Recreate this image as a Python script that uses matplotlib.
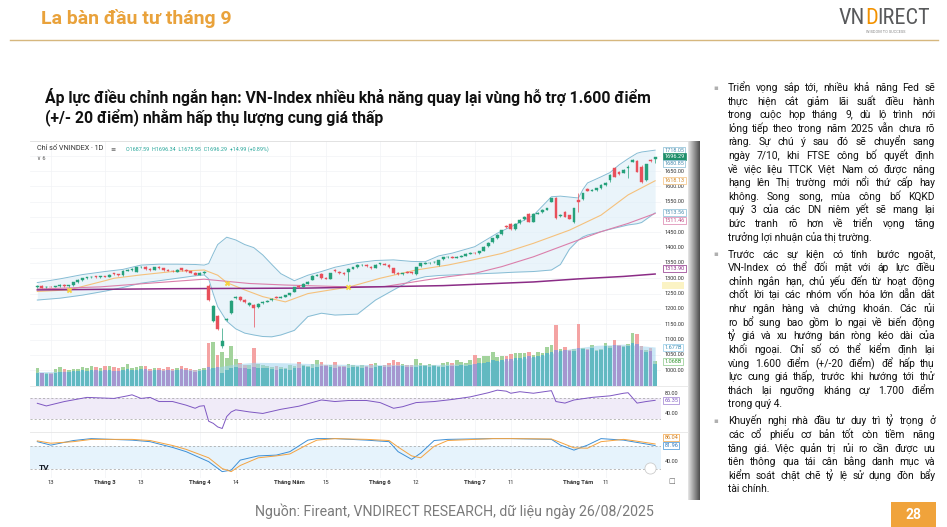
"""VN-Index slide: daily candles with Bollinger bands, volume, RSI and stochastic."""

import numpy as np
import matplotlib
matplotlib.use("Agg")
import matplotlib.pyplot as plt
from matplotlib import font_manager
from matplotlib.font_manager import FontProperties
from matplotlib.patches import Rectangle

# ---- daily candles 10/02 -> 26/08/2025 ----
opens = [1270, 1275, 1270, 1273, 1272, 1274, 1279, 1275, 1277, 1287,
         1294, 1300, 1304, 1306, 1303, 1307, 1305, 1316, 1313, 1310,
         1325, 1327, 1322, 1336, 1338, 1330, 1328, 1338, 1333, 1327,
         1325, 1322, 1332, 1327, 1323, 1318, 1312, 1317, 1276, 1162,
         1176, 1078, 1165, 1186, 1236, 1240, 1229, 1214, 1214, 1206,
         1218, 1224, 1228, 1240, 1237, 1240, 1245, 1256, 1275, 1272,
         1282, 1295, 1309, 1315, 1302, 1298, 1327, 1321, 1317, 1322,
         1331, 1337, 1343, 1344, 1338, 1334, 1345, 1347, 1343, 1333,
         1318, 1314, 1322, 1320, 1313, 1340, 1348, 1350, 1352, 1343,
         1362, 1368, 1371, 1367, 1370, 1374, 1380, 1383, 1382, 1390,
         1404, 1417, 1431, 1443, 1471, 1477, 1460, 1480, 1492, 1510,
         1485, 1511, 1515, 1524, 1550, 1561, 1503, 1517, 1506, 1485,
         1555, 1558, 1590, 1586, 1589, 1595, 1605, 1620, 1659, 1648,
         1645, 1660, 1680, 1684, 1664, 1621, 1686, 1687.59]
highs = [1278, 1277, 1275, 1275, 1276, 1280, 1281, 1279, 1289, 1296,
         1302, 1305, 1307, 1308, 1309, 1309, 1313, 1318, 1315, 1327,
         1329, 1332, 1338, 1341, 1340, 1332, 1338, 1340, 1335, 1329,
         1328, 1330, 1334, 1329, 1325, 1320, 1319, 1323, 1280, 1212,
         1180, 1138, 1172, 1228, 1243, 1241, 1231, 1222, 1216, 1218,
         1226, 1229, 1236, 1242, 1242, 1247, 1253, 1271, 1277, 1283,
         1291, 1311, 1314, 1318, 1304, 1318, 1330, 1323, 1319, 1332,
         1338, 1345, 1346, 1346, 1340, 1346, 1351, 1349, 1345, 1335,
         1320, 1318, 1324, 1322, 1338, 1351, 1352, 1353, 1356, 1361,
         1370, 1372, 1373, 1372, 1375, 1381, 1386, 1385, 1390, 1405,
         1418, 1432, 1443, 1459, 1473, 1479, 1480, 1492, 1503, 1512,
         1512, 1516, 1525, 1530, 1563, 1565, 1509, 1520, 1508, 1530,
         1577, 1579, 1593, 1591, 1596, 1606, 1614, 1640, 1662, 1650,
         1656, 1670, 1690, 1687, 1668, 1674, 1690, 1696.34]
lows = [1268, 1267, 1268, 1270, 1270, 1272, 1273, 1273, 1276, 1285,
        1292, 1298, 1302, 1301, 1301, 1303, 1303, 1311, 1308, 1309,
        1323, 1325, 1320, 1334, 1328, 1325, 1326, 1331, 1325, 1323,
        1322, 1320, 1325, 1321, 1316, 1310, 1310, 1315, 1226, 1158,
        1130, 1073, 1160, 1184, 1233, 1226, 1218, 1210, 1142, 1204,
        1216, 1222, 1226, 1235, 1235, 1238, 1243, 1254, 1269, 1270,
        1280, 1293, 1306, 1298, 1296, 1296, 1322, 1315, 1312, 1290,
        1329, 1335, 1340, 1337, 1330, 1332, 1343, 1342, 1334, 1315,
        1312, 1312, 1316, 1314, 1311, 1338, 1347, 1348, 1350, 1341,
        1360, 1366, 1365, 1365, 1368, 1372, 1378, 1378, 1380, 1389,
        1402, 1415, 1429, 1441, 1464, 1458, 1458, 1478, 1490, 1483,
        1483, 1509, 1513, 1522, 1548, 1492, 1500, 1499, 1493, 1480,
        1517, 1556, 1584, 1584, 1586, 1592, 1600, 1615, 1629, 1638,
        1643, 1628, 1678, 1646, 1612, 1619, 1678, 1675.95]
closes = [1276, 1269, 1273, 1272, 1274, 1278, 1275, 1277, 1287, 1294,
          1300, 1303, 1305, 1303, 1307, 1305, 1311, 1313, 1310, 1325,
          1327, 1330, 1336, 1338, 1330, 1327, 1336, 1333, 1327, 1325,
          1324, 1328, 1327, 1323, 1318, 1312, 1317, 1321, 1230, 1210,
          1133, 1096, 1168, 1226, 1240, 1229, 1221, 1219, 1204, 1216,
          1224, 1227, 1234, 1237, 1240, 1245, 1251, 1270, 1271, 1281,
          1289, 1309, 1311, 1300, 1299, 1316, 1324, 1317, 1315, 1330,
          1336, 1343, 1344, 1339, 1332, 1344, 1349, 1344, 1336, 1317,
          1314, 1316, 1318, 1316, 1336, 1349, 1350, 1351, 1354, 1359,
          1368, 1370, 1367, 1370, 1373, 1379, 1384, 1381, 1388, 1403,
          1416, 1430, 1441, 1457, 1466, 1460, 1478, 1490, 1501, 1485,
          1510, 1514, 1523, 1528, 1561, 1496, 1506, 1501, 1495, 1528,
          1548, 1577, 1586, 1588, 1593, 1604, 1612, 1637, 1631, 1640,
          1653, 1662, 1686, 1648, 1615, 1672, 1681.30, 1696.29]

# volume (billion shares) and the second volume study drawn inside it
volumes = [0.76, 0.57, 0.55, 0.54, 0.72, 0.80, 0.74, 0.70, 0.72, 0.75,
           0.83, 0.78, 0.86, 0.80, 0.78, 0.86, 0.87, 0.80, 0.76, 0.80,
           0.93, 0.78, 0.80, 0.84, 0.86, 0.74, 0.76, 0.78, 0.74, 0.80,
           0.72, 0.76, 0.84, 0.78, 0.74, 0.68, 0.74, 0.78, 1.84, 1.90,
           1.35, 1.47, 1.20, 1.72, 1.15, 0.98, 0.92, 0.90, 1.62, 0.95,
           0.90, 0.85, 0.82, 0.88, 0.80, 0.78, 0.92, 0.85, 1.05, 0.90,
           0.88, 0.95, 1.10, 1.02, 0.92, 0.90, 1.05, 0.88, 0.86, 0.95,
           0.92, 0.85, 0.90, 0.86, 0.95, 1.00, 0.88, 0.92, 0.98, 1.10,
           1.05, 0.95, 0.90, 0.92, 1.18, 1.00, 0.92, 0.95, 0.90, 0.88,
           1.00, 1.05, 0.98, 1.13, 1.05, 1.00, 1.10, 1.33, 1.20, 1.28,
           1.30, 1.47, 1.25, 1.30, 1.30, 1.38, 1.42, 1.40, 1.44, 1.47,
           1.35, 1.45, 1.40, 1.69, 1.76, 2.62, 1.60, 1.67, 1.55, 1.60,
           2.66, 1.62, 1.58, 1.76, 1.55, 1.60, 1.86, 1.70, 1.98, 1.75,
           1.70, 1.80, 2.27, 2.24, 1.70, 1.55, 1.62, 1.07]
vol_inner = [0.58, 0.55, 0.52, 0.50, 0.56, 0.60, 0.62, 0.60, 0.64, 0.66,
             0.68, 0.66, 0.70, 0.68, 0.66, 0.70, 0.68, 0.66, 0.64, 0.70,
             0.72, 0.68, 0.70, 0.72, 0.74, 0.66, 0.68, 0.70, 0.66, 0.70,
             0.66, 0.68, 0.72, 0.70, 0.66, 0.62, 0.66, 0.70, 0.80, 0.78,
             0.82, 0.55, 0.70, 0.76, 0.80, 0.78, 0.76, 0.74, 0.80, 0.78,
             0.76, 0.76, 0.72, 0.70, 0.74, 0.72, 0.70, 0.78, 0.76, 0.84,
             0.80, 0.78, 0.82, 0.86, 0.84, 0.80, 0.78, 0.82, 0.80, 0.78,
             0.80, 0.82, 0.78, 0.80, 0.78, 0.82, 0.84, 0.80, 0.82, 0.84,
             0.86, 0.84, 0.82, 0.80, 0.82, 0.86, 0.84, 0.82, 0.84, 0.82,
             0.80, 0.84, 0.86, 0.84, 0.90, 0.88, 0.90, 0.95, 0.98, 1.00,
             1.05, 1.10, 1.08, 1.12, 1.15, 1.18, 1.20, 1.22, 1.25, 1.28,
             1.26, 1.30, 1.32, 1.40, 1.45, 1.55, 1.50, 1.55, 1.50, 1.52,
             1.62, 1.58, 1.55, 1.65, 1.52, 1.55, 1.70, 1.65, 1.75, 1.70,
             1.68, 1.72, 1.85, 1.80, 1.55, 1.45, 1.50, 0.95]
vma_idx = [0, 15, 30, 37, 40, 44, 48, 55, 65, 75, 85, 96, 105, 112, 118, 124, 130, 137]
vma = [0.62, 0.66, 0.70, 0.70, 0.82, 0.95, 1.02, 1.00, 0.94, 0.92, 0.92, 0.95,
       1.10, 1.30, 1.60, 1.75, 1.80, 1.677]

# Bollinger bands, moving averages (read at sample candles)
bb_idx = [0, 5, 10, 15, 19, 23, 27, 31, 35, 37, 38, 39, 40, 42, 44, 46, 48, 50, 52, 54,
          57, 60, 63, 66, 71, 75, 79, 83, 86, 89, 92, 97, 102, 106, 110, 114, 116, 118,
          120, 121, 122, 125, 127, 129, 131, 133, 134, 137]
bb_up = [1286, 1298, 1312, 1322, 1329, 1343, 1346, 1346, 1345, 1343, 1348, 1380, 1410,
         1434, 1425, 1410, 1400, 1376, 1345, 1315, 1292, 1310, 1322, 1336, 1351, 1358,
         1360, 1355, 1354, 1373, 1382, 1403, 1447, 1475, 1505, 1566, 1568, 1565, 1562,
         1590, 1611, 1631, 1645, 1670, 1690, 1708, 1712, 1718.05]
bb_low = [1229, 1235, 1245, 1258, 1270, 1284, 1292, 1300, 1308, 1311, 1298, 1250, 1207,
          1160, 1135, 1121, 1115, 1110, 1109, 1115, 1130, 1175, 1186, 1180, 1183, 1229,
          1262, 1294, 1305, 1309, 1311, 1314, 1317, 1320, 1322, 1327, 1345, 1395, 1425,
          1435, 1441, 1452, 1460, 1467, 1474, 1478, 1482, 1513.56]
basis_idx = [0, 7, 15, 17, 23, 30, 37, 40, 42, 46, 50, 55, 60, 65, 69, 76, 84, 91, 96,
             103, 110, 118, 125, 131, 137]
basis = [1257, 1262, 1292, 1300, 1311, 1322, 1327, 1310, 1286, 1262, 1240, 1223, 1250,
         1262, 1271, 1300, 1327, 1343, 1358, 1381, 1414, 1457, 1506, 1572, 1618.13]
ma50_idx = [0, 14, 24, 37, 42, 47, 55, 62, 69, 77, 86, 91, 97, 103, 110, 118, 125, 131, 137]
ma50 = [1265, 1272, 1283, 1297, 1290, 1283, 1278, 1275, 1272, 1273, 1294, 1305, 1316,
        1338, 1370, 1414, 1452, 1479, 1511.46]
ma200_idx = [0, 30, 60, 90, 100, 110, 120, 130, 137]
ma200 = [1262, 1266, 1268, 1276, 1282, 1288, 1298, 1306, 1313.90]
cross_idx = [7, 42, 69]
cross_val = [1262, 1286, 1271]

# RSI and stochastic
rsi_idx = [0, 2, 6, 11, 17, 20, 21, 23, 25, 27, 30, 33, 35, 36, 37, 38, 39, 40, 41, 42,
           43, 44, 47, 50, 54, 58, 63, 66, 69, 73, 76, 79, 81, 84, 88, 92, 96, 100, 102,
           104, 105, 107, 110, 114, 115, 117, 119, 123, 127, 130, 131, 133, 135, 137]
rsi = [60.6, 55.5, 64, 72, 70, 75, 77, 70, 72, 64, 64, 57, 51, 55, 56, 26, 22, 15, 12, 35,
       44, 48, 44, 41, 49, 55, 67, 64, 66, 66, 62, 51, 54, 62, 64, 68, 73, 81, 86,
       84, 80, 83, 80, 85, 64, 61, 67, 72, 75, 80, 81, 61, 64, 66.35]
st_idx = [0, 3, 8, 12, 21, 25, 30, 33, 38, 41, 43, 45, 49, 53, 56, 60, 62, 66, 73, 78,
          80, 83, 85, 88, 91, 101, 105, 114, 116, 119, 122, 125, 130, 132, 137]
st_k = [92, 83, 95, 100, 96, 92, 77, 66, 40, 14, 18, 44, 55, 57, 66, 96, 100, 100, 96, 92,
        66, 46, 62, 95, 98, 100, 100, 98, 83, 70, 83, 100, 96, 92, 81.96]
st_d = [94, 88, 92, 98, 98, 95, 82, 72, 50, 22, 14, 30, 50, 55, 60, 85, 96, 100, 98, 95,
        78, 55, 50, 80, 95, 100, 100, 99, 90, 76, 75, 92, 98, 95, 86.04]

date_ticks = [(3, "13"), (15, "Tháng 3"), (23, "13"), (36, "Tháng 4"), (44, "14"),
              (56, "Tháng Năm"), (64, "15"), (76, "Tháng 6"), (84, "12"), (97, "Tháng 7"),
              (105, "11"), (120, "Tháng Tám"), (126, "11")]
price_levels = [1650, 1600, 1550, 1450, 1400, 1350, 1300, 1250, 1200, 1150, 1100, 1050, 1000]

bullets = [
    ["Triển vọng sắp tới, nhiều khả năng Fed sẽ",
     "thực hiện cắt giảm lãi suất điều hành",
     "trong cuộc họp tháng 9, dù lộ trình nới",
     "lỏng tiếp theo trong năm 2025 vẫn chưa rõ",
     "ràng. Sự chú ý sau đó sẽ chuyển sang",
     "ngày 7/10, khi FTSE công bố quyết định",
     "về việc liệu TTCK Việt Nam có được nâng",
     "hạng lên Thị trường mới nổi thứ cấp hay",
     "không. Song song, mùa công bố KQKD",
     "quý 3 của các DN niêm yết sẽ mang lại",
     "bức tranh rõ hơn về triển vọng tăng",
     "trưởng lợi nhuận của thị trường."],
    ["Trước các sự kiện có tính bước ngoặt,",
     "VN-Index có thể đối mặt với áp lực điều",
     "chỉnh ngắn hạn, chủ yếu đến từ hoạt động",
     "chốt lời tại các nhóm vốn hóa lớn dẫn dắt",
     "như ngân hàng và chứng khoán. Các rủi",
     "ro bổ sung bao gồm lo ngại về biến động",
     "tỷ giá và xu hướng bán ròng kéo dài của",
     "khối ngoại. Chỉ số có thể kiểm định lại",
     "vùng 1.600 điểm (+/-20 điểm) để hấp thụ",
     "lực cung giá thấp, trước khi hướng tới thử",
     "thách lại ngưỡng kháng cự 1.700 điểm",
     "trong quý 4."],
    ["Khuyến nghị nhà đầu tư duy trì tỷ trọng ở",
     "các cổ phiếu cơ bản tốt còn tiềm năng",
     "tăng giá. Việc quản trị rủi ro cần được ưu",
     "tiên thông qua tái cân bằng danh mục và",
     "kiểm soát chặt chẽ tỷ lệ sử dụng đòn bẩy",
     "tài chính."],
]

W, H = 947, 527
UP, DN = "#26a17b", "#e8505b"
ORANGE = "#e9a23b"


def first_font(names):
    for n in names:
        try:
            font_manager.findfont(n, fallback_to_default=False)
            return n
        except ValueError:
            pass
    return "DejaVu Sans"


# Roboto carries the full Vietnamese set, so no glyph falls back to another family
VN_FONT = first_font(["Roboto", "Noto Sans", "DejaVu Sans"])
plt.rcParams["font.family"] = [VN_FONT, "DejaVu Sans"]
NARROW = first_font(["Roboto Condensed", VN_FONT])

fig = plt.figure(figsize=(W / 100, H / 100), dpi=100)
renderer = fig.canvas.get_renderer()


def px_rect(x0, y0, x1, y1):
    return [x0 / W, 1 - y1 / H, (x1 - x0) / W, (y1 - y0) / H]


def put(x, y, s, **kw):
    return fig.text(x / W, 1 - y / H, s, **kw)


def width_of(s, **kw):
    t = fig.text(0, 0, s, **kw)
    w = t.get_window_extent(renderer).width
    t.remove()
    return w


def hline(y, x0, x1, **kw):
    fig.add_artist(plt.Line2D([x0 / W, x1 / W], [1 - y / H, 1 - y / H], **kw))


# ---- slide header ----
put(41, 18, "La bàn đầu tư tháng 9", fontsize=14, fontweight="bold", color=ORANGE, va="center")
hline(40, 10, 938, color="#d6b77e", lw=1.0)
logo_kw = dict(fontsize=16, family=NARROW, va="center")
x = 839
for part, colr in (("VN", "#58595b"), ("D", "#f39200"), ("IRECT", "#58595b")):
    put(x, 18, part, color=colr, **logo_kw)
    x += width_of(part, **logo_kw) - 0.5
put(886, 32, "WISDOM TO SUCCESS", fontsize=2.8, color="#888888", ha="center", va="center")

# ---- chart heading ----
head_kw = dict(fontsize=11.3, fontweight="bold", color="#111111", va="center")
put(45, 97, "Áp lực điều chỉnh ngắn hạn: VN-Index nhiều khả năng quay lại vùng hỗ trợ 1.600 điểm", **head_kw)
put(45, 117, "(+/- 20 điểm) nhằm hấp thụ lượng cung giá thấp", **head_kw)

# ---- chart panes ----
L, R = 30, 661
axg = fig.add_axes(px_rect(L, 141, R, 386))
axv = fig.add_axes(px_rect(L, 141, R, 386))
ax = fig.add_axes(px_rect(L, 141, R, 386))
ax_rsi = fig.add_axes(px_rect(L, 386, R, 432))
ax_st = fig.add_axes(px_rect(L, 432, R, 478))
for a in (axg, axv, ax, ax_rsi, ax_st):
    a.set_xlim(-1.62, 138.3)
    a.set_axis_off()
axg.set_ylim(948.5, 1747.9)
ax.set_ylim(948.5, 1747.9)
axv.set_ylim(0, 10.54)
ax_rsi.set_ylim(5.2, 94)
ax_st.set_ylim(-2.6, 117.2)

grid_c = "#f1f3f6"
for lvl in range(1000, 1751, 50):
    axg.axhline(lvl, color=grid_c, lw=0.5)
for i, _ in date_ticks:
    for a in (axg, ax_rsi, ax_st):
        a.axvline(i, color=grid_c, lw=0.5, zorder=0)

idx = np.arange(len(closes))
o, h, lo, c = (np.array(v, dtype=float) for v in (opens, highs, lows, closes))
up = c >= o

# volume
axv.bar(idx, volumes, width=0.8, color=np.where(up, "#a3d39c", "#f4a3a3"), lw=0)
axv.fill_between(vma_idx, 0, vma, color="#9fd4f0", alpha=0.55, lw=0)
axv.bar(idx, vol_inner, width=0.8, color=np.where(up, "#62b9c1", "#a597cf"), lw=0)

# bands and averages
ax.fill_between(bb_idx, bb_low, bb_up, color="#dceef8", alpha=0.6, lw=0, zorder=1)
ax.plot(bb_idx, bb_up, color="#86bcd4", lw=0.7, zorder=2)
ax.plot(bb_idx, bb_low, color="#86bcd4", lw=0.7, zorder=2)
ax.plot(basis_idx, basis, color="#f5c17c", lw=0.8, zorder=2)
ax.plot(ma50_idx, ma50, color="#db7fab", lw=0.8, zorder=2)
ax.plot(ma200_idx, ma200, color="#8b2c86", lw=1.1, zorder=2)
ax.scatter(cross_idx, cross_val, marker="X", s=16, color="#f6d443", lw=0, zorder=6)

# candles
col = np.where(up, UP, DN)
ax.vlines(idx, lo, h, colors=col, lw=0.5, zorder=4)
ax.bar(idx, np.abs(c - o), bottom=np.minimum(o, c), width=0.62, color=col,
       edgecolor=col, lw=0.3, zorder=5)

# RSI
ax_rsi.axhspan(30, 70, color="#f0ebf8", lw=0)
for v in (70, 30):
    ax_rsi.axhline(v, color="#a0a0a0", lw=0.5, ls=(0, (3, 3)))
ax_rsi.plot(rsi_idx, rsi, color="#7e57c2", lw=0.7)

# stochastic
ax_st.axhspan(20, 80, color="#e6f3fc", lw=0)
for v in (80, 20):
    ax_st.axhline(v, color="#a0a0a0", lw=0.5, ls=(0, (3, 3)))
ax_st.plot(st_idx, st_k, color="#3d8fd6", lw=0.7)
ax_st.plot(st_idx, st_d, color="#f4a340", lw=0.7)


def rlabel(a, v, s, ec=None, fc="white", tc="#333333", dy=0):
    box = dict(boxstyle="square,pad=0.18", fc=fc, ec=ec, lw=0.5) if ec else None
    a.annotate(s, xy=(1, v), xycoords=("axes fraction", "data"), xytext=(2.5, dy),
               textcoords="offset points", fontsize=4, va="center", ha="left",
               color=tc, bbox=box, annotation_clip=False)


for lvl in price_levels:
    rlabel(ax, lvl, f"{lvl:.2f}")
rlabel(ax, 1718.05, "1718.05", ec="#86bcd4", tc="#4d8fb0")
rlabel(ax, 1696.29, "1696.29", ec="#1f8f6a", fc="#1f8f6a", tc="white")
rlabel(ax, 1680.85, "1680.85", ec="#86bcd4", tc="#4d8fb0", dy=-1.5)
rlabel(ax, 1618.13, "1618.13", ec="#f5c17c", tc="#d28a2a")
rlabel(ax, 1513.56, "1513.56", ec="#86bcd4", tc="#4d8fb0")
rlabel(ax, 1511.46, "1511.46", ec="#db7fab", tc="#c04f86", dy=-4.8)
rlabel(ax, 1313.90, "1313.90", ec="#8b2c86", tc="#8b2c86", dy=4)
fig.add_artist(Rectangle((662 / W, 1 - 289 / H), 22 / W, 7 / H, transform=fig.transFigure,
                         fc="#fbf3c4", ec="none"))
rlabel(axv, 1.677, "1.677B", ec="#8fcbe8", tc="#3c8fb8")
rlabel(axv, 1.068, "1.068B", ec="#8cc98a", tc="#3c9a3a")
rlabel(ax_rsi, 80, "80.00")
rlabel(ax_rsi, 40, "40.00")
rlabel(ax_rsi, 66.35, "66.35", ec="#9c7fd0", tc="#7e57c2")
rlabel(ax_st, 40, "40.00")
rlabel(ax_st, 86.04, "86.04", ec="#f4a340", tc="#d07a15", dy=5)
rlabel(ax_st, 81.96, "81.96", ec="#3d8fd6", tc="#2f78bd")

for i, s in date_ticks:
    bold = s.startswith("Tháng")
    ax_st.text(i, -0.09, s, transform=ax_st.get_xaxis_transform(), ha="center", va="center",
               fontsize=4.2, color="#333333", fontweight="bold" if bold else "normal")

# pane separators, legend row and small icons
hline(141, 30, 688, color="#dddddd", lw=0.6)
hline(386, 30, 688, color="#e6e6e6", lw=0.6)
hline(432, 30, 688, color="#e6e6e6", lw=0.6)
put(37, 149, "Chỉ số VNINDEX · 1D", fontsize=5.2, color="#333333", va="center")
put(110, 149, "≡", fontsize=4.5, color="#555555", va="center")
put(126, 149, "O1687.59  H1696.34  L1675.95  C1696.29  +14.99 (+0.89%)", fontsize=3.9,
    color="#26a69a", va="center")
put(37, 159, "∨ 6", fontsize=4, color="#555555", va="center")
put(39, 467, "TV", fontsize=6, fontweight="bold", color="#131722", va="center")
ax_st.plot([0.983], [0.22], transform=ax_st.transAxes, marker="o", ms=8, mfc="white",
           mec="#cccccc", mew=0.6, clip_on=False)
put(672, 482, "□", fontsize=5, color="#666666", ha="center", va="center")

# page-curl shadow on the right of the chart picture
shade = np.repeat(np.linspace(0.88, 0.32, 12)[None, :], 8, axis=0)
axs = fig.add_axes(px_rect(688, 141, 700, 500))
axs.imshow(shade, cmap="gray", vmin=0, vmax=1, aspect="auto")
axs.set_axis_off()

# ---- right-hand commentary: one text per word, justified ----
BODY_PT = 7.4
body_kw = dict(fontsize=BODY_PT, color="#111111", va="baseline")
try:
    from matplotlib.backends.backend_agg import get_hinting_flag
    _bfont = font_manager.get_font(font_manager.findfont(FontProperties(family=VN_FONT)))
except Exception:
    _bfont = None


def glyph_row_y(word, row):
    """y (from top) that puts Agg's rasterised baseline of `word` on pixel row `row`.

    Agg snaps each text bitmap by its own ink box, so words with different
    accents would otherwise land a pixel apart.
    """
    if _bfont is None:
        return row
    _bfont.clear()
    _bfont.set_size(BODY_PT, 100)
    _bfont.set_text(word, 0, flags=get_hinting_flag())
    _, hh = _bfont.get_width_height()
    desc = _bfont.get_descent()
    return row + hh // 64 - np.floor((hh - desc) / 64) - desc / 64


def put_word(x, row, s):
    fig.text(x / W, (H - glyph_row_y(s, row)) / H, s, **body_kw)


x0, x1, dy = 728, 935, 13.6
y = 88
for para in bullets:
    put(713, y, "▪", fontsize=5, color="#b0b0b0", va="center")
    for k, line in enumerate(para):
        row = int(round(y + 3.0))
        words = line.split()
        if k == len(para) - 1:
            put_word(x0, row, line)
        else:
            widths = [width_of(w, **body_kw) for w in words]
            gap = (x1 - x0 - sum(widths)) / (len(words) - 1)
            xx = x0
            for w, wd in zip(words, widths):
                put_word(xx, row, w)
                xx += wd + gap
        y += dy
    y += 3.5

# ---- footer ----
put(255, 511, "Nguồn: Fireant, VNDIRECT RESEARCH, dữ liệu ngày 26/08/2025", fontsize=10.2,
    color="#7a7a7a", va="center")
fig.add_artist(Rectangle((891 / W, 0), 45 / W, 25 / H, transform=fig.transFigure,
                         fc="#f0a33b", ec="none"))
put(913.5, 515, "28", fontsize=10, fontweight="bold", color="white", ha="center", va="center")

fig.savefig("out.png", dpi=100, facecolor="white")
